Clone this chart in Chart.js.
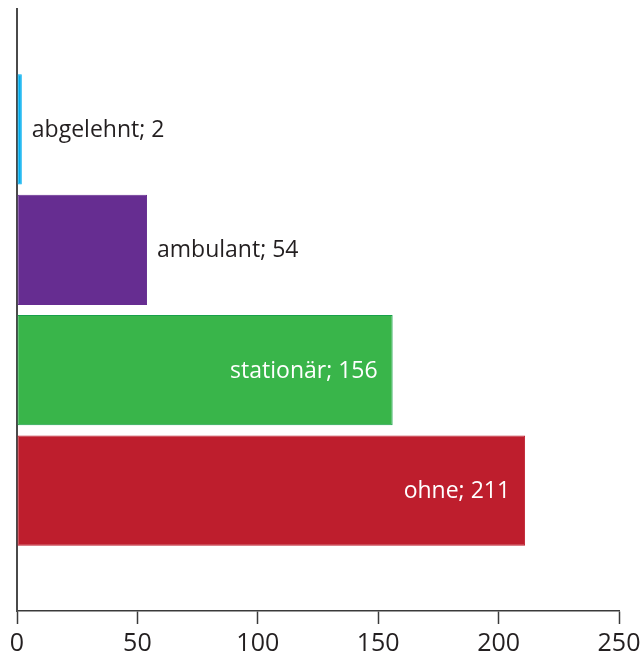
<!DOCTYPE html>
<html>
<head>
<meta charset="utf-8">
<script src="https://cdn.jsdelivr.net/npm/chart.js@4"></script>
<style>
  html, body { margin: 0; padding: 0; background: #fff; }
  #wrap { width: 642px; height: 656px; }
</style>
</head>
<body>
<div id="wrap"><canvas id="c" width="642" height="656"></canvas></div>
<script>
// Behandlungsart und Anzahl der Fälle
const categories = ['abgelehnt', 'ambulant', 'stationär', 'ohne'];
const counts = [2, 54, 156, 211];
const barColors = ['#00aeef', '#662d91', '#39b54a', '#be1e2d'];
const borderColors = ['#00aeef', '#662d91', '#17a04a', '#be1e2d'];
const xTicks = [0, 50, 100, 150, 200, 250];
// labels sitting inside the bar (white) vs. beside it (dark)
const insideLabel = [false, false, true, true];

// an empty slot above and below the bars
const labels = [''].concat(categories, ['']);
const values = [null].concat(counts, [null]);

const FONT = '"Open Sans", "Noto Sans", sans-serif';

const barLabels = {
  id: 'barLabels',
  afterDatasetsDraw(chart) {
    const ctx = chart.ctx;
    const meta = chart.getDatasetMeta(0);
    ctx.save();
    ctx.font = '23px ' + FONT;
    ctx.textBaseline = 'middle';
    categories.forEach((name, i) => {
      const bar = meta.data[i + 1];
      const text = name + '; ' + counts[i];
      if (insideLabel[i]) {
        ctx.fillStyle = '#ffffff';
        ctx.textAlign = 'right';
        ctx.fillText(text, bar.x - 15, bar.y + 1);
      } else {
        ctx.fillStyle = '#231f20';
        ctx.textAlign = 'left';
        ctx.fillText(text, bar.x + 10, bar.y + 1);
      }
    });
    ctx.restore();
  }
};

new Chart(document.getElementById('c'), {
  type: 'bar',
  data: {
    labels: labels,
    datasets: [{
      data: values,
      backgroundColor: [null].concat(barColors),
      borderColor: [null].concat(borderColors),
      borderWidth: 1,
      borderSkipped: false,
      categoryPercentage: 1,
      barPercentage: 0.915
    }]
  },
  options: {
    indexAxis: 'y',
    responsive: false,
    animation: false,
    devicePixelRatio: 1,
    layout: { padding: { top: 9, left: 16, right: 23, bottom: 0 } },
    plugins: { legend: { display: false }, tooltip: { enabled: false } },
    scales: {
      x: {
        type: 'linear',
        min: 0,
        max: 250,
        afterBuildTicks(scale) { scale.ticks = xTicks.map(v => ({ value: v })); },
        ticks: { color: '#231f20', font: { family: FONT, size: 25 }, padding: 5, maxRotation: 0 },
        grid: { drawOnChartArea: false, tickLength: 13, tickWidth: 1.5, color: '#3a3a3a' },
        border: { color: '#3a3a3a', width: 1.5 },
        afterFit(scale) {
          scale.height = 45;
          scale.paddingLeft = 0;
          scale.paddingRight = 0;
        }
      },
      y: {
        type: 'category',
        offset: false,
        ticks: { display: false },
        grid: { display: false, drawOnChartArea: false, tickLength: 0 },
        border: { color: '#4a4a4a', width: 2 },
        afterFit(scale) { scale.width = 1; }
      }
    }
  },
  plugins: [barLabels]
});
</script>
</body>
</html>
